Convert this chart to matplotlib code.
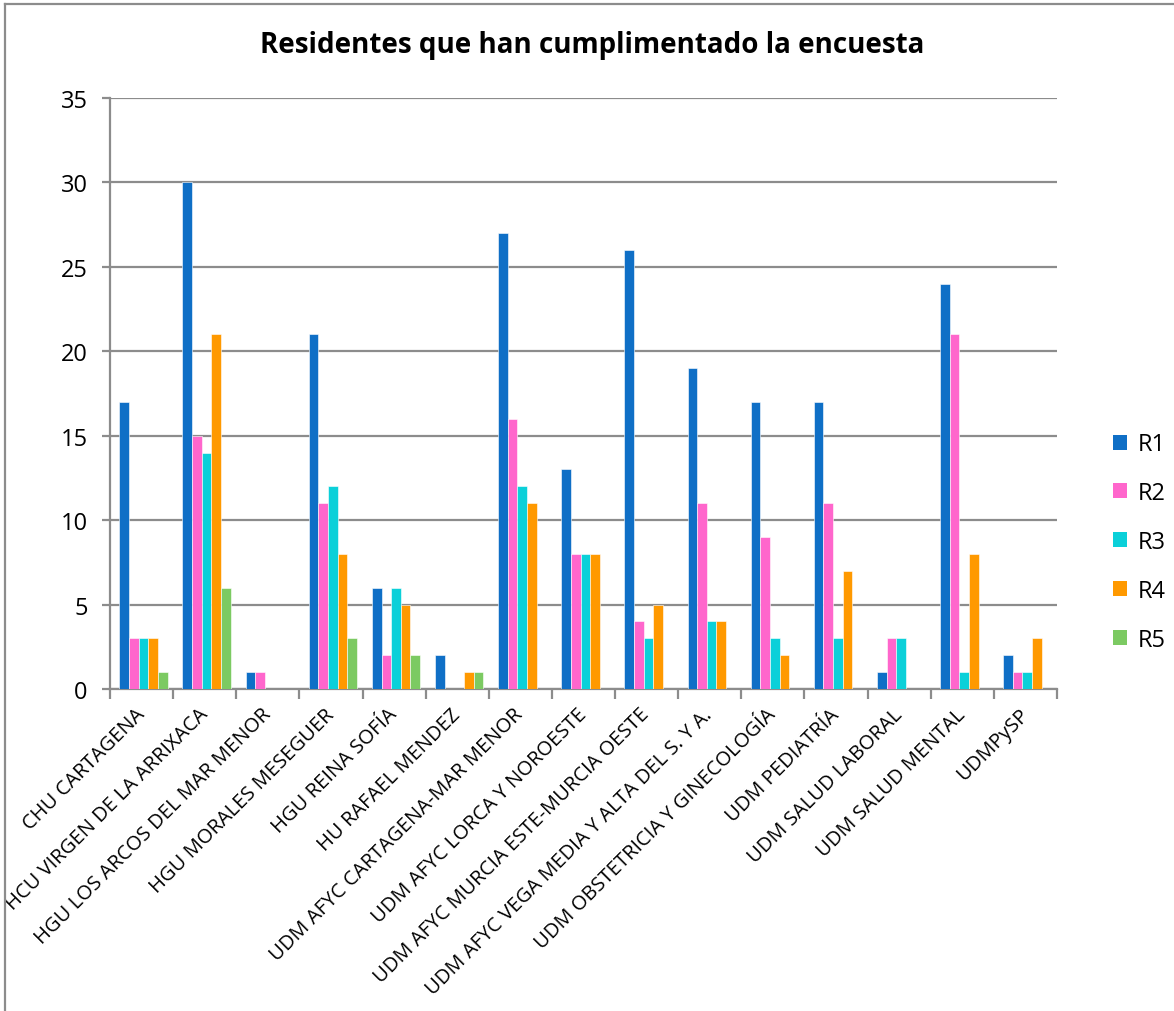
import matplotlib
matplotlib.use("Agg")
import matplotlib.pyplot as plt
import numpy as np
from matplotlib.lines import Line2D
from matplotlib.patches import Patch

plt.rcParams['font.family'] = ['Open Sans', 'DejaVu Sans']

categories = [
    "CHU CARTAGENA",
    "HCU VIRGEN DE LA ARRIXACA",
    "HGU LOS ARCOS DEL MAR MENOR",
    "HGU MORALES MESEGUER",
    "HGU REINA SOFÍA",
    "HU RAFAEL MENDEZ",
    "UDM AFYC CARTAGENA-MAR MENOR",
    "UDM AFYC LORCA Y NOROESTE",
    "UDM AFYC MURCIA ESTE-MURCIA OESTE",
    "UDM AFYC VEGA MEDIA Y ALTA DEL S. Y A.",
    "UDM OBSTETRICIA Y GINECOLOGÍA",
    "UDM PEDIATRÍA",
    "UDM SALUD LABORAL",
    "UDM SALUD MENTAL",
    "UDMPySP",
]
series_names = ["R1", "R2", "R3", "R4", "R5"]
R1 = [17, 30, 1, 21, 6, 2, 27, 13, 26, 19, 17, 17, 1, 24, 2]
R2 = [3, 15, 1, 11, 2, 0, 16, 8, 4, 11, 9, 11, 3, 21, 1]
R3 = [3, 14, 0, 12, 6, 0, 12, 8, 3, 4, 3, 3, 3, 1, 1]
R4 = [3, 21, 0, 8, 5, 1, 11, 8, 5, 4, 2, 7, 0, 8, 3]
R5 = [1, 6, 0, 3, 2, 1, 0, 0, 0, 0, 0, 0, 0, 0, 0]
series_values = [R1, R2, R3, R4, R5]
colors = ["#0F6FC6", "#FF66CC", "#0BD0D9", "#FF9900", "#7CCA62"]
y_ticks = [0, 5, 10, 15, 20, 25, 30, 35]

W, H = 1174, 1012
fig = plt.figure(figsize=(W / 100, H / 100), dpi=100)
ax = fig.add_axes([110 / W, 1 - 690 / H, (1057 - 110) / W, (690 - 99) / H])

x = np.arange(len(categories))
bw = 0.153
for i, (name, vals, c) in enumerate(zip(series_names, series_values, colors)):
    offs = (i - 2) * bw + 0.03
    ax.bar(x + offs, vals, width=bw, color=c, edgecolor="white", linewidth=0.4,
           label=name, zorder=3)

ax.set_xlim(-0.5, len(categories) - 0.5)
ax.set_ylim(0, 35)
ax.set_yticks(y_ticks)
ax.set_yticklabels([str(t) for t in y_ticks], fontsize=17)
ax.yaxis.grid(True, color="#8C8C8C", linewidth=1.6, zorder=0)
ax.set_axisbelow(True)

for s in ["top", "right"]:
    ax.spines[s].set_visible(False)
for s in ["left", "bottom"]:
    ax.spines[s].set_color("#8C8C8C")
    ax.spines[s].set_linewidth(1.6)
ax.tick_params(axis="y", length=6, width=1.6, color="#8C8C8C", pad=10)

# category boundary ticks
ax.set_xticks(np.arange(-0.5, len(categories) + 0.5, 1.0))
ax.set_xticklabels([])
ax.tick_params(axis="x", which="major", length=7, width=1.6, color="#8C8C8C")
ax.set_xticks(x, minor=True)
ax.set_xticklabels(categories, minor=True, rotation=45, ha="right", va="center",
                   rotation_mode="anchor", fontsize=14.5)
ax.tick_params(axis="x", which="minor", length=0, pad=16)

fig.suptitle("Residentes que han cumplimentado la encuesta", fontsize=20,
             fontweight="bold", x=592 / W, y=1 - 45 / H, va="center")

handles = [Patch(facecolor=c, edgecolor="none") for c in colors]
leg = fig.legend(handles, series_names, loc="center left",
                 bbox_to_anchor=(1092 / W, 1 - 543 / H), frameon=False,
                 fontsize=17, handlelength=0.6, handleheight=0.6,
                 labelspacing=1.05, handletextpad=0.45)

# figure border (left and top)
fig.add_artist(Line2D([5 / W, 5 / W], [0, 1 - 5 / H], transform=fig.transFigure,
                      color="#8C8C8C", linewidth=1.6))
fig.add_artist(Line2D([5 / W, 1], [1 - 5 / H, 1 - 5 / H], transform=fig.transFigure,
                      color="#8C8C8C", linewidth=1.6))

fig.savefig("out.png", dpi=100)
